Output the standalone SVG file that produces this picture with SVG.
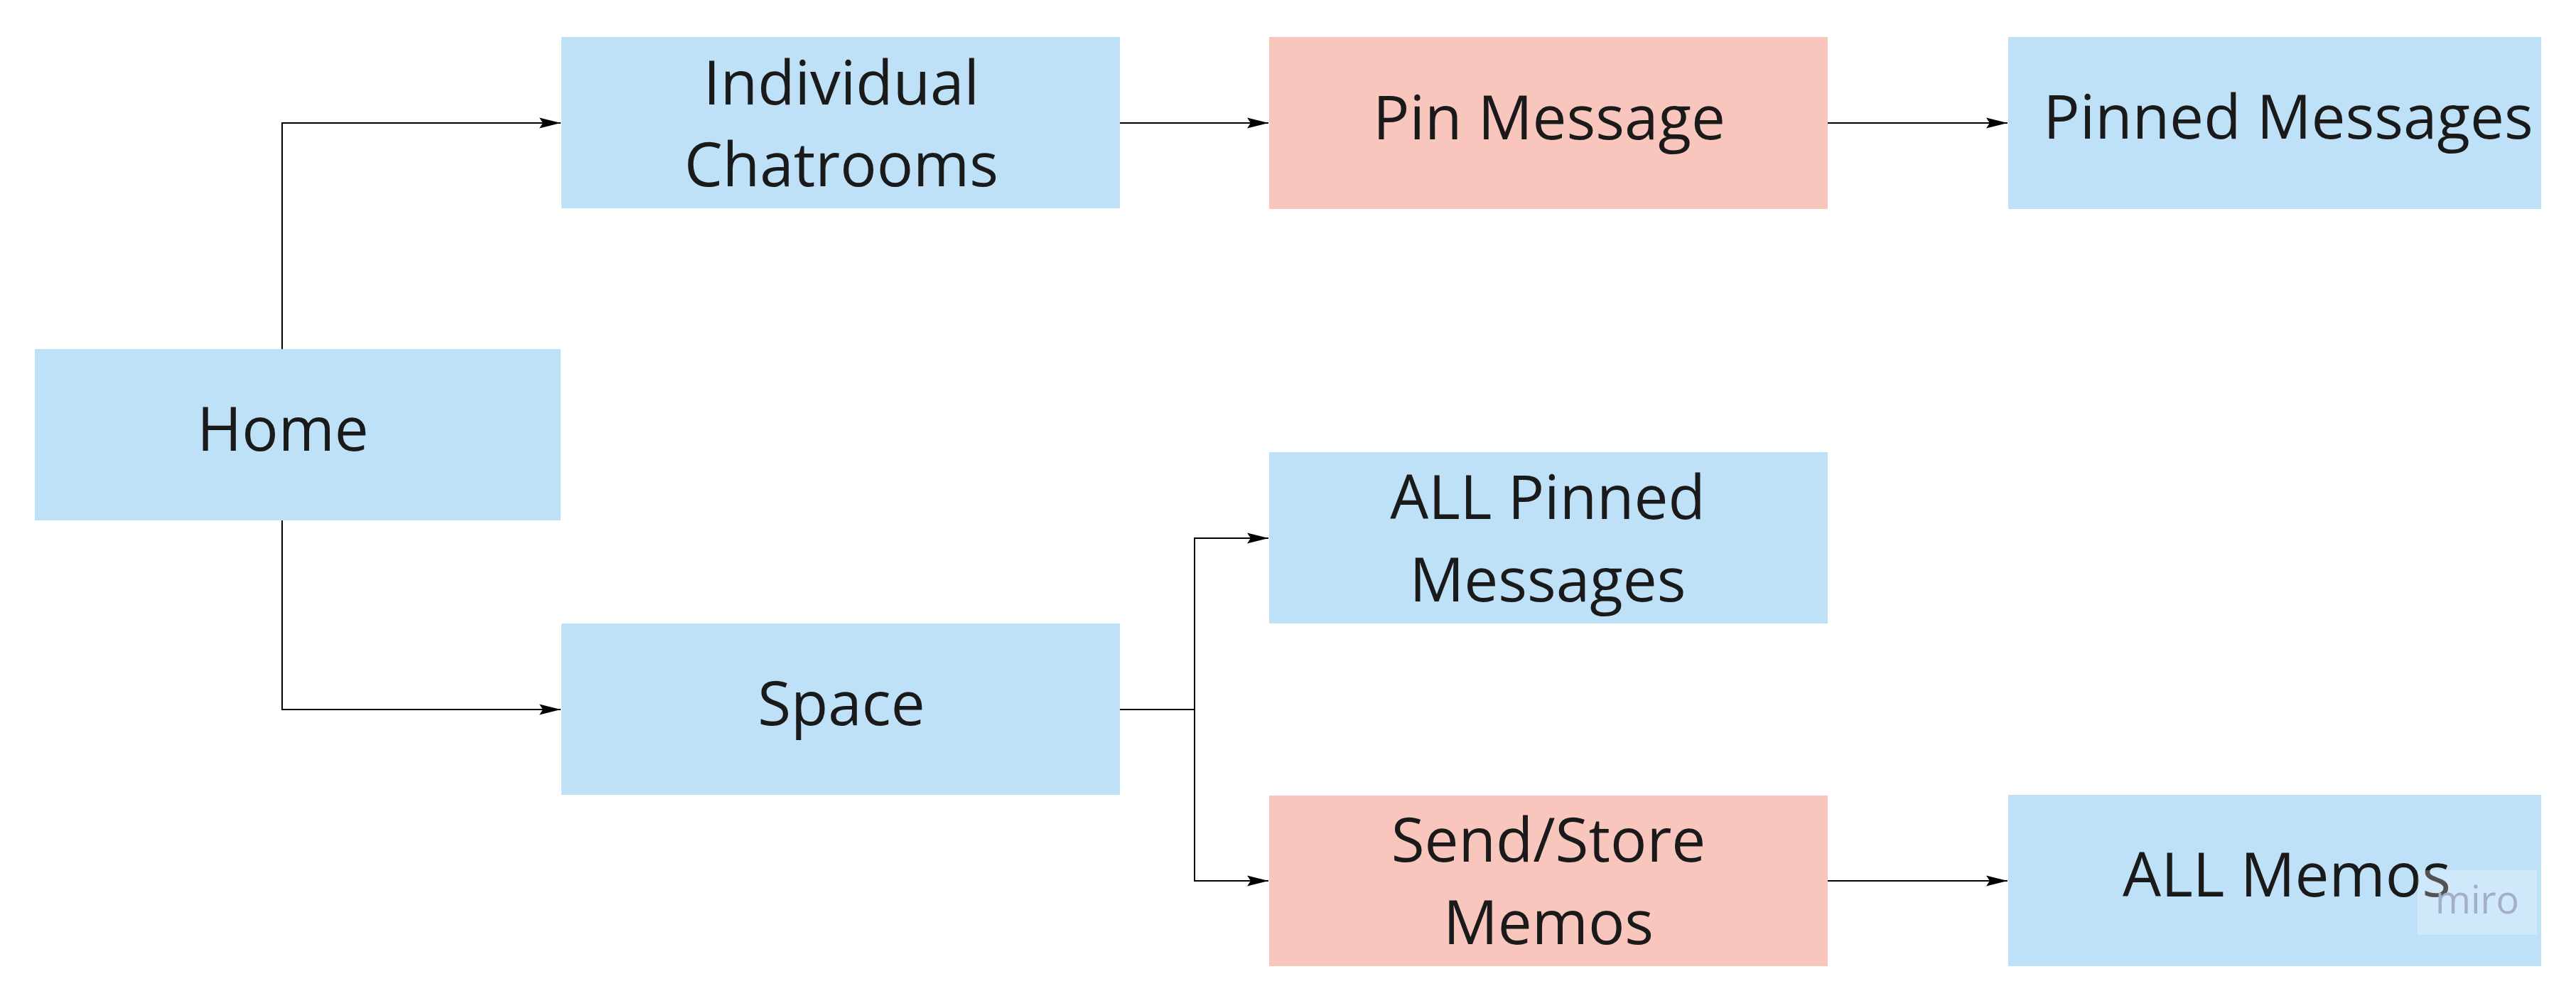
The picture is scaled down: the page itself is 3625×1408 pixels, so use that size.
<svg xmlns="http://www.w3.org/2000/svg" width="3625" height="1408" viewBox="0 0 3625 1408">
  <style>
    .blue { fill: #bfe1f8; }
    .pink { fill: #f8c6bd; }
    .label { font-family: "Open Sans", "Noto Sans", "Liberation Sans", sans-serif; font-size: 85.5px; fill: #1a1a1a; text-anchor: middle; }
    .edge { fill: none; stroke: #000; stroke-width: 2; marker-end: url(#arrow); }
  </style>
  <defs>
    <marker id="arrow" markerUnits="userSpaceOnUse" markerWidth="34" markerHeight="20" viewBox="-32 -10 34 20" refX="0" refY="0" orient="auto">
      <path d="M0,0 L-30,-7.5 L-25,0 L-30,7.5 Z" fill="#000"/>
    </marker>
  </defs>
  <rect x="0" y="0" width="3625" height="1408" fill="#ffffff"/>

  <g id="connectors">
    <path class="edge" d="M397,491 L397,173 L789,173"/>
    <path class="edge" d="M397,732 L397,998 L789,998"/>
    <path class="edge" d="M1576,173 L1785,173"/>
    <path class="edge" d="M2572,173 L2825,173"/>
    <path class="edge" d="M1576,998 L1681,998 L1681,757 L1785,757"/>
    <path class="edge" d="M1681,998 L1681,1239 L1785,1239"/>
    <path class="edge" d="M2572,1239 L2825,1239"/>
  </g>

  <g id="node-home">
    <rect class="blue" x="49" y="491" width="740" height="241"/>
    <text class="label" x="398" y="634">Home</text>
  </g>
  <g id="node-individual-chatrooms">
    <rect class="blue" x="790" y="52" width="786" height="241"/>
    <text class="label" x="1184" y="147">Individual</text>
    <text class="label" x="1184" y="262">Chatrooms</text>
  </g>
  <g id="node-pin-message">
    <rect class="pink" x="1786" y="52" width="786" height="242"/>
    <text class="label" x="2180" y="196">Pin Message</text>
  </g>
  <g id="node-pinned-messages">
    <rect class="blue" x="2826" y="52" width="750" height="242"/>
    <text class="label" x="3220" y="195">Pinned Messages</text>
  </g>
  <g id="node-all-pinned-messages">
    <rect class="blue" x="1786" y="636" width="786" height="241"/>
    <text class="label" x="2178" y="730">ALL Pinned</text>
    <text class="label" x="2178" y="846">Messages</text>
  </g>
  <g id="node-space">
    <rect class="blue" x="790" y="877" width="786" height="241"/>
    <text class="label" x="1184" y="1020">Space</text>
  </g>
  <g id="node-send-store-memos">
    <rect class="pink" x="1786" y="1119" width="786" height="240"/>
    <text class="label" x="2179" y="1212">Send/Store</text>
    <text class="label" x="2179" y="1328">Memos</text>
  </g>
  <g id="node-all-memos">
    <rect class="blue" x="2826" y="1118" width="750" height="241"/>
    <text class="label" x="3218" y="1261">ALL Memos</text>
  </g>

  <g id="watermark">
    <rect x="3402" y="1224" width="168" height="91" fill="#ffffff" fill-opacity="0.25"/>
    <text x="3486" y="1285" font-family="'Open Sans', 'Noto Sans', sans-serif" font-size="54" fill="#a3aec8" text-anchor="middle">miro</text>
  </g>
</svg>
